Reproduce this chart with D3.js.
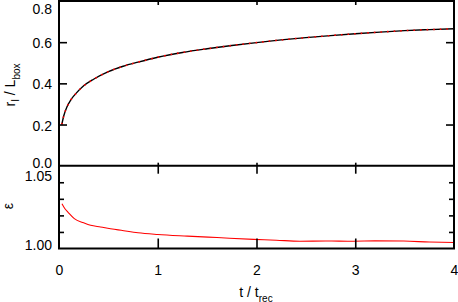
<!DOCTYPE html>
<html><head><meta charset="utf-8">
<script src="https://cdn.jsdelivr.net/npm/d3@7"></script>
<style>body{margin:0;background:#fff}svg{display:block}text{font-family:"Liberation Sans",Arial,sans-serif;fill:#000}</style>
</head><body><svg id="c" width="458" height="302"></svg>
<script>
// ---- data ----
const tRadius = [0.028,0.05,0.08,0.12,0.17,0.25,0.35,0.5,0.65,0.8,1.0,1.25,1.5,1.75,2.0,2.25,2.5,2.75,3.0,3.25,3.5,3.75,4.0];
const rRadius = [0.20,0.245,0.285,0.320,0.350,0.388,0.420,0.457,0.483,0.503,0.527,0.550,0.568,0.584,0.598,0.611,0.622,0.632,0.641,0.649,0.656,0.661,0.665];
const tEps = [0.03,0.06,0.09,0.155,0.25,0.32,0.42,0.56,0.63,0.8,1.0,1.3,1.6,1.97,2.2,2.44,2.7,2.98,3.2,3.49,3.75,4.0];
const eps  = [1.027,1.024,1.022,1.018,1.0155,1.014,1.013,1.0116,1.011,1.0095,1.0085,1.0075,1.0066,1.0055,1.0050,1.0044,1.0045,1.0044,1.0046,1.0045,1.0039,1.0036];
const xTicks = [0,1,2,3,4];
const xTickLabels = ["0","1","2","3","4"];
const rTicks = [0,0.2,0.4,0.6,0.8];
const rTickLabels = ["0.0","0.2","0.4","0.6","0.8"];
const epsMajor = [1.00,1.05];
const epsTickLabels = ["1.00","1.05"];
const epsMinor = [1.01,1.02,1.03,1.04];

const svg = d3.select("#c");
const X0=59, X1=454, YT=1, YM=165.7, YB=248.5;
const x = d3.scaleLinear().domain([0,4]).range([X0,X1]);
const yR = d3.scaleLinear().domain([0,0.8]).range([YM,YT]);
const yE = d3.scaleLinear().domain([1.00,1.05]).range([YB,YM]);

svg.append("defs").append("clipPath").attr("id","cp1").append("rect")
  .attr("x",X0).attr("y",YT).attr("width",X1-X0).attr("height",YM-YT);
svg.append("defs").append("clipPath").attr("id","cp2").append("rect")
  .attr("x",X0).attr("y",YM).attr("width",X1-X0).attr("height",YB-YM);

// curves
const lineR = d3.line().x((d,i)=>x(tRadius[i])).y(d=>yR(d)).curve(d3.curveMonotoneX);
svg.append("path").attr("clip-path","url(#cp1)").attr("d",lineR(rRadius))
  .attr("fill","none").attr("stroke","#000").attr("stroke-width",1.4);
svg.append("path").attr("clip-path","url(#cp1)").attr("d",lineR(rRadius))
  .attr("fill","none").attr("stroke","#ff0000").attr("stroke-width",1.6).attr("stroke-dasharray","1.6,5");
const lineE = d3.line().x((d,i)=>x(tEps[i])).y(d=>yE(d)).curve(d3.curveMonotoneX);
svg.append("path").attr("clip-path","url(#cp2)").attr("d",lineE(eps))
  .attr("fill","none").attr("stroke","#ff0000").attr("stroke-width",1.1);

// axes (tick marks)
function noDomain(g){g.select(".domain").remove();g.selectAll("line").attr("stroke","#000").attr("stroke-width",1.6);}
svg.append("g").attr("transform",`translate(${X0},0)`)
  .call(d3.axisRight(yR).tickValues(rTicks.slice(1,4)).tickSize(8).tickFormat(""))
  .call(noDomain);
svg.append("g").attr("transform",`translate(${X1},0)`)
  .call(d3.axisLeft(yR).tickValues(rTicks.slice(1,4)).tickSize(8).tickFormat(""))
  .call(noDomain);
svg.append("g").attr("transform",`translate(${X0},0)`)
  .call(d3.axisRight(yE).tickValues(epsMinor).tickSize(5).tickFormat(""))
  .call(noDomain);
svg.append("g").attr("transform",`translate(${X1},0)`)
  .call(d3.axisLeft(yE).tickValues(epsMinor).tickSize(5).tickFormat(""))
  .call(noDomain);
const inner = xTicks.slice(1,4);
svg.append("g").attr("transform",`translate(0,${YT})`)
  .call(d3.axisBottom(x).tickValues(inner).tickSize(4).tickFormat("")).call(noDomain);
svg.append("g").attr("transform",`translate(0,${YM})`)
  .call(d3.axisTop(x).tickValues(inner).tickSize(3).tickFormat("")).call(noDomain);
svg.append("g").attr("transform",`translate(0,${YM})`)
  .call(d3.axisBottom(x).tickValues(inner).tickSize(8).tickFormat("")).call(noDomain);
svg.append("g").attr("transform",`translate(0,${YB})`)
  .call(d3.axisTop(x).tickValues(inner).tickSize(10).tickFormat("")).call(noDomain);

// frames
svg.append("rect").attr("x",X0).attr("y",YT).attr("width",X1-X0).attr("height",YB-YT)
  .attr("fill","none").attr("stroke","#000").attr("stroke-width",2);
svg.append("line").attr("x1",X0).attr("x2",X1).attr("y1",YM).attr("y2",YM)
  .attr("stroke","#000").attr("stroke-width",2);

// tick labels
const fs = 14;
const FF = '"Liberation Sans",Arial,sans-serif';
const xl = svg.append("g").attr("transform",`translate(0,${YB})`)
  .call(d3.axisBottom(x).tickValues(xTicks).tickSize(0).tickPadding(0).tickFormat((d,i)=>xTickLabels[i]));
xl.select(".domain").remove();
xl.selectAll("text").attr("y",26.5).attr("dy",null).style("font-size",fs+"px").style("font-family",FF);

const rShift = {"0":-3.5,"0.8":7.5};
const rl = svg.append("g").attr("transform",`translate(${X0},0)`)
  .call(d3.axisLeft(yR).tickValues(rTicks).tickSize(0).tickPadding(7).tickFormat((d,i)=>rTickLabels[i]));
rl.select(".domain").remove();
rl.selectAll("text").attr("dy",null).attr("dominant-baseline","central")
  .attr("y",d=>rShift[String(d)]||0.5).style("font-size",fs+"px").style("font-family",FF);

const eShift = {"1":-4,"1.05":9.5};
const el = svg.append("g").attr("transform",`translate(${X0},0)`)
  .call(d3.axisLeft(yE).tickValues(epsMajor).tickSize(0).tickPadding(7).tickFormat((d,i)=>epsTickLabels[i]));
el.select(".domain").remove();
el.selectAll("text").attr("dy",null).attr("dominant-baseline","central")
  .attr("y",d=>eShift[String(d)]||0).style("font-size",fs+"px").style("font-family",FF);

// axis titles
const xt = svg.append("text").attr("x",256).attr("y",297).attr("text-anchor","middle").style("font-size","14px");
xt.append("tspan").text("t / t");
xt.append("tspan").attr("dy",4.5).style("font-size","10px").text("rec");

const yt = svg.append("text").attr("transform","translate(15,85) rotate(-90)").attr("text-anchor","middle").style("font-size","14px");
yt.append("tspan").text("r");
yt.append("tspan").attr("dy",4).style("font-size","10px").text("I");
yt.append("tspan").attr("dy",-4).text(" / L");
yt.append("tspan").attr("dy",4.5).style("font-size","10px").text("box");

svg.append("text").attr("transform","translate(13,206) rotate(-90)").attr("text-anchor","middle")
  .style("font-size","14px").text("ε");
</script></body></html>
